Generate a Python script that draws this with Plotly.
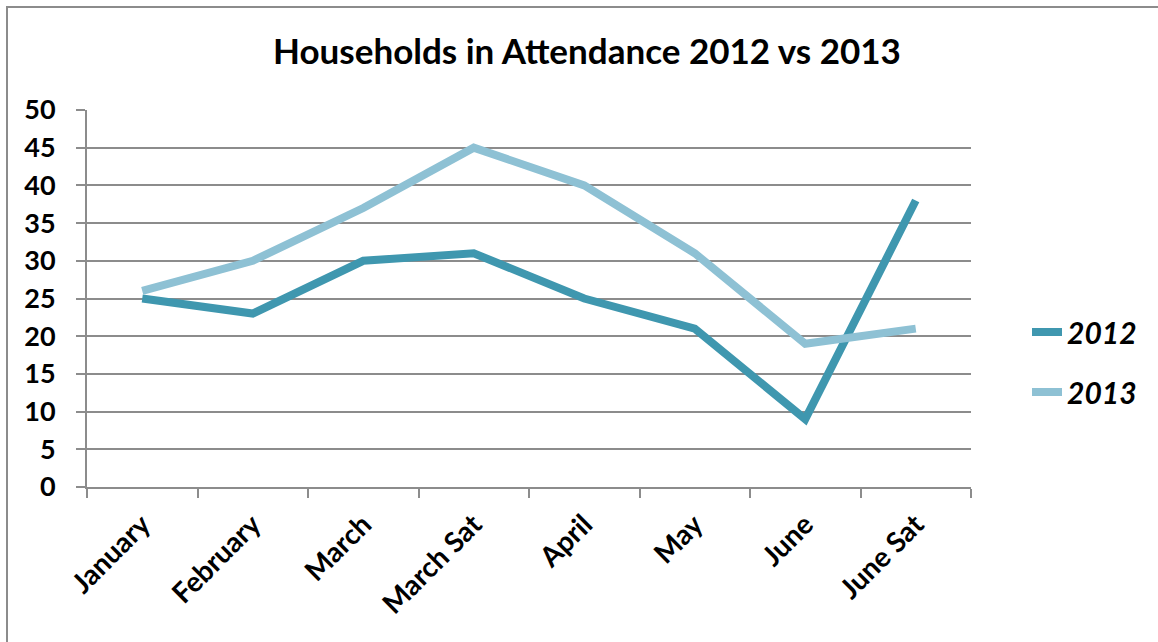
import plotly.graph_objects as go

categories = ["January", "February", "March", "March Sat", "April", "May", "June", "June Sat"]
values_2012 = [25, 23, 30, 31, 25, 21, 9, 38]
values_2013 = [26, 30, 37, 45, 40, 31, 19, 21]
y_ticks = [0, 5, 10, 15, 20, 25, 30, 35, 40, 45, 50]

FONT = "Lato"
GRID = "#8c8c8c"

fig = go.Figure()
fig.add_trace(go.Scatter(x=categories, y=values_2012, mode="lines", name="2012",
                         legendgroup="a",
                         line=dict(color="#3f97af", width=8)))
fig.add_trace(go.Scatter(x=categories, y=values_2013, mode="lines", name="2013",
                         legendgroup="b",
                         line=dict(color="#8ec1d4", width=8)))

L, R, T, B = 87, 187, 110, 155
W, H = 1158, 642
pw, ph = W - L - R, H - T - B

fig.update_layout(
    width=W, height=H,
    margin=dict(l=L, r=R, t=T, b=B),
    paper_bgcolor="white", plot_bgcolor="white",
    font=dict(family=FONT, color="black"),
    title=dict(text="<b>Households in Attendance 2012 vs 2013</b>",
               font=dict(family=FONT, size=35, color="black"),
               x=(587) / W, xanchor="center", y=1 - 52 / H, yanchor="middle"),
    xaxis=dict(type="category", showgrid=False, showline=True, linecolor=GRID, linewidth=2,
               ticks="outside", tickson="boundaries", ticklen=9, tickcolor=GRID, tickwidth=2,
               tickangle=-45, ticklabelstandoff=8,
               tickfont=dict(family=FONT, size=28, color="black", weight="bold"),
               range=[-0.5, 7.5]),
    yaxis=dict(range=[0, 50], tickvals=y_ticks, showgrid=True, gridcolor=GRID, gridwidth=2,
               showline=True, linecolor=GRID, linewidth=2, zeroline=False,
               ticks="outside", ticklen=9, tickcolor=GRID, tickwidth=2,
               ticklabelstandoff=15,
               tickfont=dict(family=FONT, size=27, color="black", weight="bold")),
    legend=dict(x=(1027 - L) / pw, xanchor="left", y=(487 - 362) / ph, yanchor="middle",
                font=dict(family=FONT, size=30, color="black", weight="bold", style="italic"),
                tracegroupgap=18, bgcolor="rgba(0,0,0,0)"),
    showlegend=True,
)

fig.add_shape(type="rect", xref="paper", yref="paper",
              x0=(7 - L) / pw, x1=(1200 - L) / pw,
              y0=(487 - 700) / ph, y1=(487 - 7) / ph,
              line=dict(color=GRID, width=2), fillcolor="rgba(0,0,0,0)", layer="below")

fig.write_html("out.html")
